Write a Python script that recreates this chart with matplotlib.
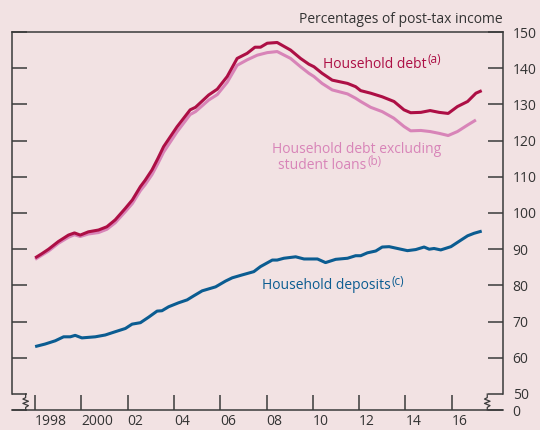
import matplotlib
matplotlib.use("Agg")
import matplotlib.pyplot as plt
import numpy as np

# Household debt (a), per cent of post-tax income
debt_years = [1998.0, 1998.3, 1998.58, 1999.0, 1999.44, 1999.7, 1999.95, 2000.3, 2000.74,
              2001.1, 2001.46, 2001.9, 2002.2, 2002.55, 2002.75, 2003.05, 2003.3, 2003.55,
              2004.13, 2004.7, 2004.93, 2005.5, 2005.87, 2006.3, 2006.73, 2007.16, 2007.5,
              2007.74, 2008.03, 2008.46, 2009.04, 2009.47, 2009.83, 2010.05, 2010.4, 2010.84,
              2011.5, 2011.85, 2012.07, 2012.5, 2013.0, 2013.51, 2013.94, 2014.23, 2014.67,
              2015.07, 2015.46, 2015.85, 2016.25, 2016.69, 2017.05, 2017.3]
debt_values = [87.6, 88.8, 90.0, 92.1, 93.9, 94.5, 93.9, 94.8, 95.3,
               96.2, 98.1, 101.3, 103.6, 107.3, 109.0, 111.9, 115.0, 118.3,
               123.8, 128.5, 129.2, 132.6, 134.2, 137.7, 142.7, 144.1, 145.8,
               145.8, 146.9, 147.1, 145.0, 142.7, 141.1, 140.4, 138.6, 136.7,
               135.8, 134.9, 133.8, 133.1, 132.1, 130.8, 128.5, 127.7, 127.8,
               128.3, 127.8, 127.5, 129.4, 130.8, 133.1, 133.8]

# Household debt excluding student loans (b)
excl_years = [1998.0, 1998.58, 1999.0, 1999.44, 1999.7, 1999.95, 2000.3, 2000.74, 2001.1,
              2001.46, 2001.9, 2002.2, 2002.55, 2002.75, 2003.05, 2003.3, 2003.55, 2004.13,
              2004.7, 2004.93, 2005.5, 2005.87, 2006.3, 2006.73, 2007.16, 2007.6, 2008.03,
              2008.46, 2009.04, 2009.47, 2009.83, 2010.05, 2010.4, 2010.84, 2011.5, 2011.85,
              2012.07, 2012.5, 2013.0, 2013.5, 2013.94, 2014.23, 2014.67, 2015.07, 2015.46,
              2015.85, 2016.25, 2016.69, 2017.05]
excl_values = [87.2, 89.5, 91.6, 93.3, 94.0, 93.5, 94.2, 94.6, 95.5,
               97.3, 100.4, 102.6, 106.2, 107.8, 110.6, 113.6, 116.8, 122.4,
               127.2, 128.0, 131.2, 132.7, 136.1, 140.8, 142.3, 143.6, 144.3,
               144.6, 142.7, 140.4, 138.6, 137.7, 135.8, 134.0, 132.9, 131.7,
               130.8, 129.2, 128.0, 126.2, 123.9, 122.7, 122.8, 122.5, 122.0,
               121.4, 122.5, 124.3, 125.7]

# Household deposits (c)
dep_years = [1998.0, 1998.43, 1998.87, 1999.23, 1999.52, 1999.73, 2000.02, 2000.6, 2001.03,
             2001.46, 2001.9, 2002.19, 2002.55, 2002.9, 2003.27, 2003.48, 2003.77, 2004.2,
             2004.57, 2004.85, 2005.22, 2005.8, 2006.23, 2006.52, 2006.95, 2007.45, 2007.74,
             2008.25, 2008.46, 2008.75, 2009.26, 2009.62, 2010.2, 2010.55, 2010.99, 2011.5,
             2011.85, 2012.07, 2012.36, 2012.72, 2013.0, 2013.3, 2013.66, 2014.09, 2014.45,
             2014.81, 2015.03, 2015.24, 2015.53, 2015.97, 2016.4, 2016.69, 2016.97, 2017.3]
dep_values = [63.1, 63.8, 64.7, 65.8, 65.8, 66.2, 65.5, 65.8, 66.3,
              67.2, 68.1, 69.3, 69.7, 71.2, 72.9, 73.0, 74.1, 75.2,
              76.0, 77.1, 78.5, 79.6, 81.2, 82.1, 82.9, 83.8, 85.2,
              87.0, 87.0, 87.5, 87.9, 87.3, 87.3, 86.3, 87.2, 87.5,
              88.2, 88.2, 89.0, 89.5, 90.6, 90.7, 90.2, 89.6, 89.9,
              90.6, 90.0, 90.2, 89.8, 90.7, 92.5, 93.7, 94.4, 95.0]

x_ticks = [1998, 2000, 2002, 2004, 2006, 2008, 2010, 2012, 2014, 2016]
x_labels = ["1998", "2000", "02", "04", "06", "08", "10", "12", "14", "16"]
y_ticks = [50, 60, 70, 80, 90, 100, 110, 120, 130, 140, 150]

BG = "#f2e2e3"
DEBT_COLOR = "#ad0f45"
EXCL_COLOR = "#d884b8"
DEP_COLOR = "#0b5c91"
AXIS_COLOR = "#3a3a3a"
TEXT_COLOR = "#333333"
Y_BOTTOM = 45.58

plt.rcParams.update({
    "font.family": ["Open Sans", "DejaVu Sans"],
    "font.size": 10,
})

fig = plt.figure(figsize=(5.4, 4.3), dpi=100, facecolor=BG)
ax = fig.add_axes([12 / 540, 1 - 410 / 430, 491 / 540, 378 / 430], facecolor=BG)

ax.plot(excl_years, excl_values, color=EXCL_COLOR, lw=2.2, solid_capstyle="butt")
ax.plot(debt_years, debt_values, color=DEBT_COLOR, lw=2.2, solid_capstyle="butt")
ax.plot(dep_years, dep_values, color=DEP_COLOR, lw=2.2, solid_capstyle="butt")

ax.set_xlim(1997.0, 2018.22)
ax.set_ylim(Y_BOTTOM, 150)

for side in ("left", "right", "top", "bottom"):
    ax.spines[side].set_color(AXIS_COLOR)
    ax.spines[side].set_linewidth(1.1)
ax.spines["left"].set_bounds(50, 150)
ax.spines["right"].set_bounds(50, 150)

ax.set_yticks([Y_BOTTOM] + y_ticks, ["0"] + [str(v) for v in y_ticks])
ax.tick_params(axis="y", direction="in", length=10.5, width=1.1, color=AXIS_COLOR,
               left=True, right=True, labelleft=False, labelright=True,
               labelcolor=TEXT_COLOR, pad=7)
ax.set_xticks(x_ticks, x_labels)
ax.tick_params(axis="x", direction="in", length=10.8, width=1.1, color=AXIS_COLOR,
               labelcolor=TEXT_COLOR, pad=3)
for lab in ax.get_xticklabels():
    lab.set_ha("left")


# axis breaks (zigzag) on both sides
def zigzag(x0):
    dx = 0.12
    xs = [x0, x0, x0 - dx, x0 + dx, x0 - dx, x0 + dx, x0, x0]
    ys = [50, 49.0, 48.6, 48.0, 47.4, 46.8, 46.3, Y_BOTTOM]
    ax.plot(xs, ys, color=AXIS_COLOR, lw=0.9, clip_on=False)


zigzag(1997.59)
zigzag(2017.54)


def label(x, y, text, note, color, raise_pt=2.5):
    t = ax.text(x, y, text, color=color, ha="left", va="baseline")
    if note:
        ax.annotate(note, xy=(1, 1), xycoords=t, xytext=(0.5, raise_pt),
                    textcoords="offset points", ha="left", va="top",
                    fontsize=8.5, color=color)
    return t


label(2010.44, 140.1, "Household debt", "(a)", DEBT_COLOR)
label(2008.24, 116.7, "Household debt excluding", None, EXCL_COLOR)
label(2008.5, 112.2, "student loans", "(b)", EXCL_COLOR, raise_pt=1.8)
label(2007.81, 79.0, "Household deposits", "(c)", DEP_COLOR)

ax.text(1.0, 1.0225, "Percentages of post-tax income", transform=ax.transAxes,
        ha="right", va="baseline", color=TEXT_COLOR)

fig.savefig("out.png", dpi=100, facecolor=BG)
